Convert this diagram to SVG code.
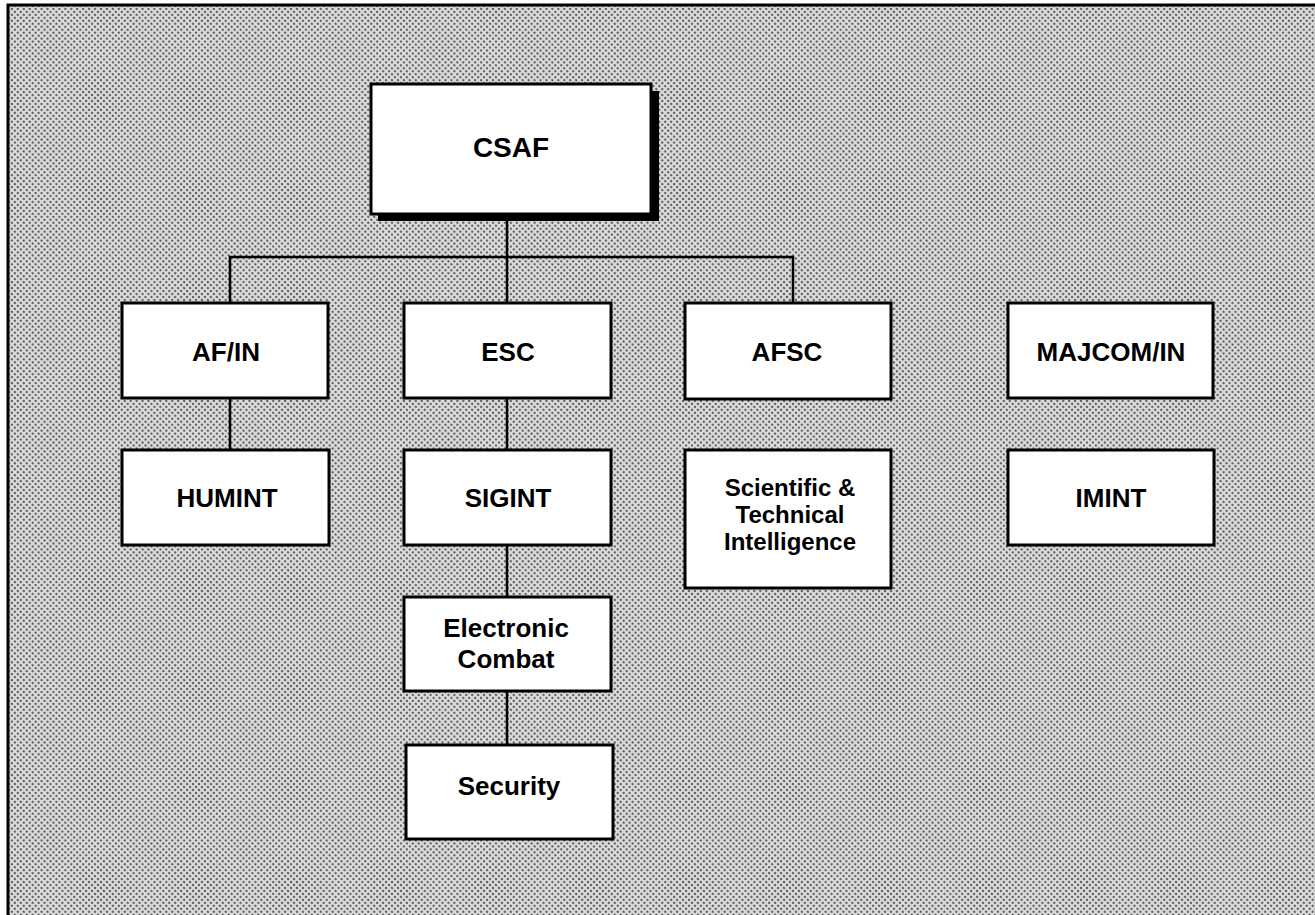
<svg xmlns="http://www.w3.org/2000/svg" width="1315" height="915" viewBox="0 0 1315 915">
  <defs>
    <pattern id="halftone" width="4.2" height="4.2" patternUnits="userSpaceOnUse" patternTransform="rotate(45)">
      <rect width="4.2" height="4.2" fill="#dcdcdc"/>
      <circle cx="2.1" cy="2.1" r="1.15" fill="#4a4a4a"/>
    </pattern>
    <style>
      .box { fill: #ffffff; stroke: #000000; stroke-width: 3; }
      .shadow { fill: #000000; }
      .conn { fill: none; stroke: #000000; stroke-width: 2.5; }
      .lbl { font-family: "Liberation Sans", Arial, Helvetica, sans-serif; font-weight: bold; font-size: 26px; fill: #000000; text-anchor: middle; }
      .big { font-size: 28px; }
      .small { font-size: 24px; }
    </style>
  </defs>

  <rect x="0" y="0" width="1315" height="915" fill="#ffffff"/>
  <rect x="8" y="5" width="1320" height="920" fill="url(#halftone)" stroke="#000000" stroke-width="3"/>

  <g id="connectors">
    <line class="conn" x1="507" y1="214" x2="507" y2="303"/>
    <polyline class="conn" points="230,303 230,257 793,257 793,303"/>
    <line class="conn" x1="230" y1="398" x2="230" y2="450"/>
    <line class="conn" x1="507" y1="398" x2="507" y2="450"/>
    <line class="conn" x1="507" y1="545" x2="507" y2="597"/>
    <line class="conn" x1="507" y1="691" x2="507" y2="745"/>
  </g>

  <g id="csaf">
    <rect class="shadow" x="378" y="91" width="281" height="130"/>
    <rect class="box" x="371" y="84" width="280" height="130"/>
    <text class="lbl big" x="511" y="157">CSAF</text>
  </g>

  <g id="af-in">
    <rect class="box" x="122" y="303" width="206" height="95"/>
    <text class="lbl" x="226" y="361">AF/IN</text>
  </g>

  <g id="esc">
    <rect class="box" x="404" y="303" width="207" height="95"/>
    <text class="lbl" x="508" y="361">ESC</text>
  </g>

  <g id="afsc">
    <rect class="box" x="685" y="303" width="206" height="96"/>
    <text class="lbl" x="787" y="361">AFSC</text>
  </g>

  <g id="majcom-in">
    <rect class="box" x="1008" y="303" width="205" height="95"/>
    <text class="lbl" x="1111" y="361">MAJCOM/IN</text>
  </g>

  <g id="humint">
    <rect class="box" x="122" y="450" width="207" height="95"/>
    <text class="lbl" x="227" y="507">HUMINT</text>
  </g>

  <g id="sigint">
    <rect class="box" x="404" y="450" width="207" height="95"/>
    <text class="lbl" x="508" y="507">SIGINT</text>
  </g>

  <g id="sci-tech">
    <rect class="box" x="685" y="450" width="206" height="138"/>
    <text class="lbl small" x="790" y="496">Scientific &amp;</text>
    <text class="lbl small" x="790" y="523">Technical</text>
    <text class="lbl small" x="790" y="550">Intelligence</text>
  </g>

  <g id="imint">
    <rect class="box" x="1008" y="450" width="206" height="95"/>
    <text class="lbl" x="1111" y="507">IMINT</text>
  </g>

  <g id="electronic-combat">
    <rect class="box" x="404" y="597" width="207" height="94"/>
    <text class="lbl" x="506" y="637">Electronic</text>
    <text class="lbl" x="506" y="668">Combat</text>
  </g>

  <g id="security">
    <rect class="box" x="406" y="745" width="207" height="94"/>
    <text class="lbl" x="509" y="795">Security</text>
  </g>
</svg>
